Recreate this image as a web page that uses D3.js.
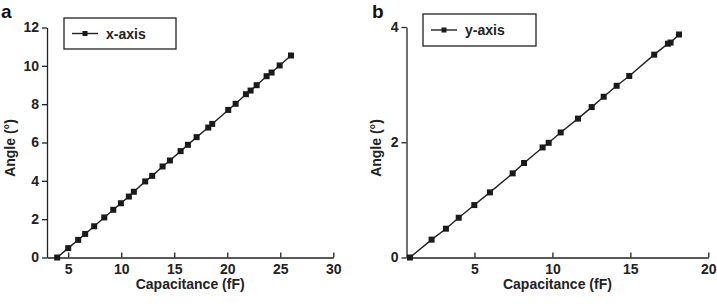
<!DOCTYPE html>
<html>
<head>
<meta charset="utf-8">
<script src="https://cdn.jsdelivr.net/npm/d3@7"></script>
<style>
    body { margin: 0; background: #fff; }
    svg { display: block; font-family: "Liberation Sans", Arial, sans-serif; }
    .tick text { font-size: 14px; font-weight: bold; fill: #222; }
    .tick line, .domain { stroke: #222; stroke-width: 1.3; }
</style>
</head>
<body>
<div id="chart"></div>
<script>
// Panel a: x-axis rotation
const capA = [3.96, 5.0, 5.94, 6.6, 7.45, 8.4, 9.25, 9.97, 10.72, 11.19, 12.26, 12.92, 13.9, 14.59,
    15.6, 16.29, 17.11, 18.21, 18.58, 20.09, 20.79, 21.76, 22.2, 22.77, 23.71, 24.18, 24.94, 26.01];
const angleA = [0.0, 0.49, 0.92, 1.23, 1.63, 2.09, 2.49, 2.83, 3.18, 3.43, 3.97, 4.26, 4.75, 5.06,
    5.55, 5.88, 6.28, 6.78, 6.97, 7.7, 8.02, 8.52, 8.71, 8.99, 9.46, 9.65, 10.02, 10.54];
const xTicksA = [5, 10, 15, 20, 25, 30];
const yTicksA = [0, 2, 4, 6, 8, 10, 12];

// Panel b: y-axis rotation
const capB = [0.86, 2.25, 3.17, 3.99, 4.99, 5.99, 7.45, 8.18, 9.37, 9.76, 10.53, 11.64, 12.52,
    13.29, 14.12, 14.93, 16.53, 17.41, 17.58, 18.12];
const angleB = [0.0, 0.31, 0.5, 0.69, 0.91, 1.13, 1.46, 1.64, 1.91, 1.99, 2.17, 2.41, 2.61,
    2.79, 2.98, 3.15, 3.52, 3.71, 3.73, 3.87];
const xTicksB = [5, 10, 15, 20];
const yTicksB = [0, 2, 4];

const svg = d3.select('#chart').append('svg')
    .attr('width', 717)
    .attr('height', 304);

/**
 * Draw one panel (axes, line, square markers, legend)
 */
function drawPanel(p) {
    const x = d3.scaleLinear().domain(p.xDomain).range(p.xRange);
    const y = d3.scaleLinear().domain(p.yDomain).range(p.yRange);
    const g = svg.append('g');
    const fmt = d3.format('d');

    // x axis, ticks pointing inward
    g.append('g')
        .attr('transform', `translate(0,${p.yRange[0]})`)
        .call(d3.axisBottom(x).tickValues(p.xTicks).tickFormat(fmt)
            .tickSize(-5).tickSizeOuter(0).tickPadding(7));

    // y axis, ticks pointing outward
    g.append('g')
        .attr('transform', `translate(${p.xRange[0]},0)`)
        .call(d3.axisLeft(y).tickValues(p.yTicks).tickFormat(fmt)
            .tickSize(5).tickSizeOuter(0).tickPadding(3));

    const pts = p.cap.map((c, i) => [c, p.angle[i]]);

    g.append('path')
        .datum(pts)
        .attr('fill', 'none')
        .attr('stroke', '#222')
        .attr('stroke-width', 1.4)
        .attr('d', d3.line().x(d => x(d[0])).y(d => y(d[1])));

    const s = 6;
    g.selectAll('rect.pt')
        .data(pts)
        .join('rect')
        .attr('class', 'pt')
        .attr('x', d => x(d[0]) - s / 2)
        .attr('y', d => y(d[1]) - s / 2)
        .attr('width', s)
        .attr('height', s)
        .attr('fill', '#1a1a1a');

    // axis titles
    g.append('text')
        .attr('x', (p.xRange[0] + p.xRange[1]) / 2)
        .attr('y', 289)
        .attr('text-anchor', 'middle')
        .style('font-size', '14px')
        .style('font-weight', 'bold')
        .style('fill', '#222')
        .text('Capacitance (fF)');

    g.append('text')
        .attr('transform', `translate(${p.yTitleX},148) rotate(-90)`)
        .attr('text-anchor', 'middle')
        .attr('dominant-baseline', 'central')
        .style('font-size', '14px')
        .style('font-weight', 'bold')
        .style('fill', '#222')
        .text('Angle (°)');

    // panel letter
    g.append('text')
        .attr('x', p.letterX)
        .attr('y', 18)
        .style('font-size', '19px')
        .style('font-weight', 'bold')
        .style('fill', '#111')
        .text(p.letter);

    // legend
    const L = p.legend;
    g.append('rect')
        .attr('x', L.x).attr('y', L.y)
        .attr('width', L.w).attr('height', L.h)
        .attr('fill', 'none')
        .attr('stroke', '#222')
        .attr('stroke-width', 1.3);
    const ly = L.y + L.h / 2;
    g.append('line')
        .attr('x1', L.x + 8).attr('x2', L.x + 34)
        .attr('y1', ly).attr('y2', ly)
        .attr('stroke', '#222')
        .attr('stroke-width', 1.4);
    g.append('rect')
        .attr('x', L.x + 21 - 2.5).attr('y', ly - 2.5)
        .attr('width', 5).attr('height', 5)
        .attr('fill', '#1a1a1a');
    g.append('text')
        .attr('x', L.x + 42)
        .attr('y', ly + 5)
        .style('font-size', '14px')
        .style('font-weight', 'bold')
        .style('fill', '#222')
        .text(p.name);
}

drawPanel({
    cap: capA, angle: angleA, xTicks: xTicksA, yTicks: yTicksA,
    xDomain: [3, 30], xRange: [47, 333.3],
    yDomain: [0, 12], yRange: [257.5, 27.5],
    yTitleX: 9.5, letter: 'a', letterX: 1, name: 'x-axis',
    legend: { x: 64, y: 18, w: 112, h: 31 }
});

drawPanel({
    cap: capB, angle: angleB, xTicks: xTicksB, yTicks: yTicksB,
    xDomain: [0.64, 20], xRange: [406.5, 708.3],
    yDomain: [0, 4], yRange: [257.5, 27],
    yTitleX: 375.5, letter: 'b', letterX: 372, name: 'y-axis',
    legend: { x: 423, y: 14, w: 113, h: 32 }
});
</script>
</body>
</html>
